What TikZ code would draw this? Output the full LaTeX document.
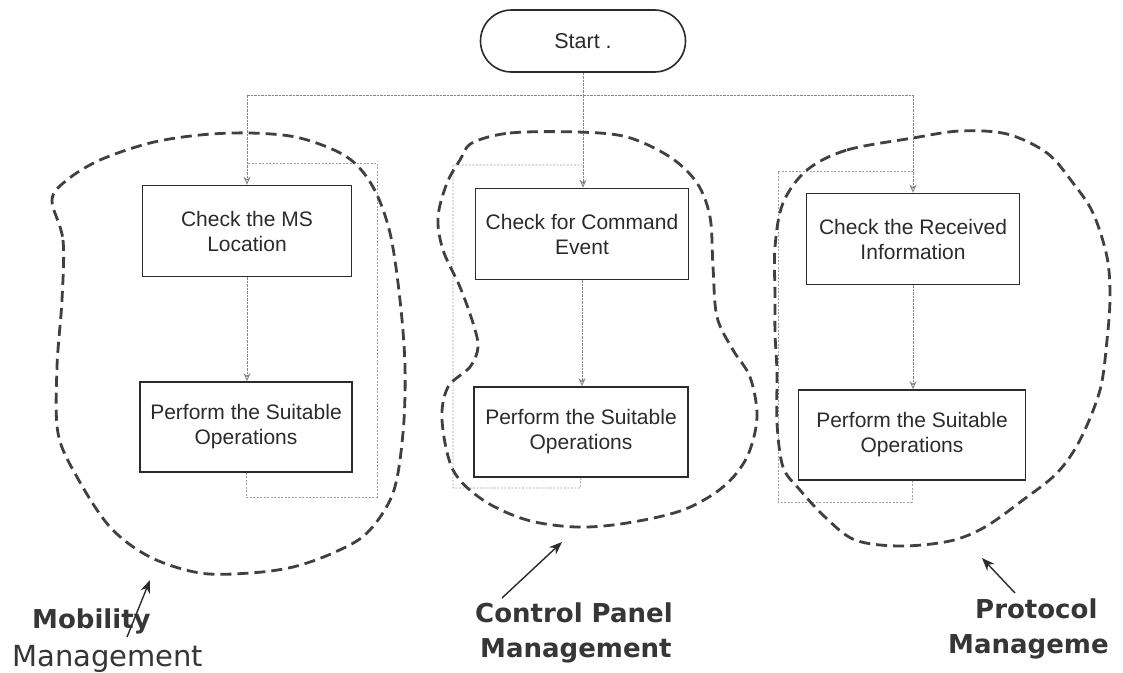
\documentclass[tikz,border=0pt]{standalone}
\usepackage{fontspec}
\setmainfont{Liberation Sans}
\newfontfamily\lblfont{DejaVu Sans}
\usetikzlibrary{arrows.meta}
\definecolor{ink}{HTML}{2B2B2B}
\definecolor{wire}{HTML}{858585}
\definecolor{faintwire}{HTML}{A0A0A0}
\tikzset{
  procbox/.style={draw=ink, line width=1.6pt, fill=white, inner sep=0pt,
    minimum height=91pt, align=center, text=ink,
    font=\fontsize{21}{25}\selectfont},
  termbox/.style={draw=ink, line width=1.6pt, rounded corners=31pt, inner sep=0pt,
    minimum width=205pt, minimum height=62pt, text=ink,
    font=\fontsize{21.5}{25}\selectfont},
  flow/.style={draw=wire, line width=0.9pt, dash pattern=on 2.5pt off 1pt},
  flowarrow/.style={flow, -{Stealth[length=8pt,width=7pt,open]}},
  loopline/.style={draw=faintwire, line width=0.8pt, dash pattern=on 2pt off 1.5pt},
  blob/.style={draw=ink!90, line width=2.8pt, dash pattern=on 11pt off 6pt},
  callout/.style={draw=ink, line width=1.4pt, -{Stealth[length=13pt,width=10pt]}},
  grouplabel/.style={anchor=base west, inner sep=0pt, text=ink!95},
}
\begin{document}
\begin{tikzpicture}[x=1pt,y=-1pt]
\useasboundingbox[fill=white] (0,0) rectangle (1123,672);

% ---- start terminal
\node[termbox] (start) at (583,41) {Start .};

% ---- three columns of processing steps
\node[procbox, minimum width=209pt] (chkL) at (247,231) {Check the MS\\Location};
\node[procbox, minimum width=212pt, minimum height=90pt] (opL) at (246,427) {Perform the Suitable\\Operations};

\node[procbox, minimum width=213pt] (chkM) at (582,234) {Check for Command\\Event};
\node[procbox, minimum width=214pt, minimum height=90pt] (opM) at (581,432) {Perform the Suitable\\Operations};

\node[procbox, minimum width=213pt] (chkR) at (913,239) {Check the Received\\Information};
\node[procbox, minimum width=227pt, minimum height=90pt] (opR) at (912,435) {Perform the Suitable\\Operations};

% ---- distribution bus below the start terminal
\coordinate (busM) at (583,95);
\coordinate (busL) at (247,95);
\coordinate (busR) at (913,95);
\draw[flow] (start.south) -- (busM);
\draw[flow] (busL) -- (busR);
\draw[flowarrow] (busL) -- (chkL.north);
\draw[flowarrow] (busM) -- (busM |- chkM.north);
\draw[flowarrow] (busR) -- (chkR.north);

\draw[flowarrow] (chkL.south) -- (chkL.south |- opL.north);
\draw[flowarrow] (chkM.south) -- (chkM.south |- opM.north);
\draw[flowarrow] (chkR.south) -- (chkR.south |- opR.north);

% ---- return paths of each column
\coordinate (retL1) at (246,497);
\coordinate (retL2) at (377,497);
\coordinate (retL3) at (377,163);
\coordinate (retL4) at (247,163);
\draw[loopline] (opL.south) -- (retL1) -- (retL2) -- (retL3) -- (retL4);

\coordinate (retM1) at (580,488);
\coordinate (retM2) at (453,488);
\coordinate (retM3) at (453,165);
\coordinate (retM4) at (582,165);
\draw[loopline] (opM.south) -- (retM1) -- (retM2) -- (retM3) -- (retM4);

\coordinate (retR1) at (912,502);
\coordinate (retR2) at (778,502);
\coordinate (retR3) at (778,171);
\coordinate (retR4) at (913,171);
\draw[loopline] (opR.south) -- (retR1) -- (retR2) -- (retR3) -- (retR4);

% ---- hand-drawn group outlines
\draw[blob] plot[smooth cycle, tension=0.55] coordinates {
 (52,200) (63,240) (62,300) (57,367) (58,433) (77,477) (110,527) (150,557)
 (200,573) (250,573) (293,567) (333,553) (367,533) (393,493) (403,433)
 (405,367) (400,300) (390,233) (373,187) (347,157) (300,138) (250,133)
 (200,135) (150,143) (100,160) (67,180)};

\draw[blob] plot[smooth cycle, tension=0.55] coordinates {
 (472,143) (510,133) (577,132) (627,137) (670,157) (697,183) (710,217)
 (713,267) (717,317) (733,350) (750,377) (757,417) (747,457) (723,487)
 (683,510) (627,523) (577,527) (527,520) (483,500) (453,470) (442,420)
 (448,387) (470,367) (478,347) (473,323) (460,287) (443,250) (438,217)
 (447,183) (460,160)};

\draw[blob] plot[smooth cycle, tension=0.55] coordinates {
 (807,170) (847,150) (913,138) (960,131) (1007,134) (1047,153) (1073,183)
 (1093,213) (1107,257) (1110,297) (1107,340) (1100,390) (1080,440)
 (1057,473) (1023,500) (985,527) (950,541) (900,546) (855,540) (825,517)
 (800,490) (783,467) (777,423) (777,373) (775,333) (775,297) (775,247)
 (783,203)};

% ---- group labels with pointers
\node[grouplabel, font=\lblfont\bfseries\fontsize{26}{30}\selectfont] (mobA) at (32,628) {Mobility};
\node[grouplabel, font=\lblfont\fontsize{29}{32}\selectfont] (mobB) at (12,666) {Management};
\coordinate (mobTail) at (127,637);
\coordinate (mobTip) at (150,580);
\draw[callout] (mobTail) -- (mobTip);

\node[grouplabel, font=\lblfont\bfseries\fontsize{26}{30}\selectfont] (cpA) at (475,622) {Control Panel};
\node[grouplabel, font=\lblfont\bfseries\fontsize{26}{30}\selectfont] (cpB) at (480,657) {Management};
\coordinate (cpTail) at (502,598);
\coordinate (cpTip) at (562,542);
\draw[callout] (cpTail) -- (cpTip);

\node[grouplabel, font=\lblfont\bfseries\fontsize{26}{30}\selectfont] (prA) at (975,618) {Protocol};
\begin{scope}
  \clip (930,620) rectangle (1108,672);
  \node[grouplabel, font=\lblfont\bfseries\fontsize{26}{30}\selectfont] (prB) at (948,653) {Manageme};
\end{scope}
\coordinate (prTail) at (1015,593);
\coordinate (prTip) at (982,558);
\draw[callout] (prTail) -- (prTip);
\end{tikzpicture}
\end{document}
